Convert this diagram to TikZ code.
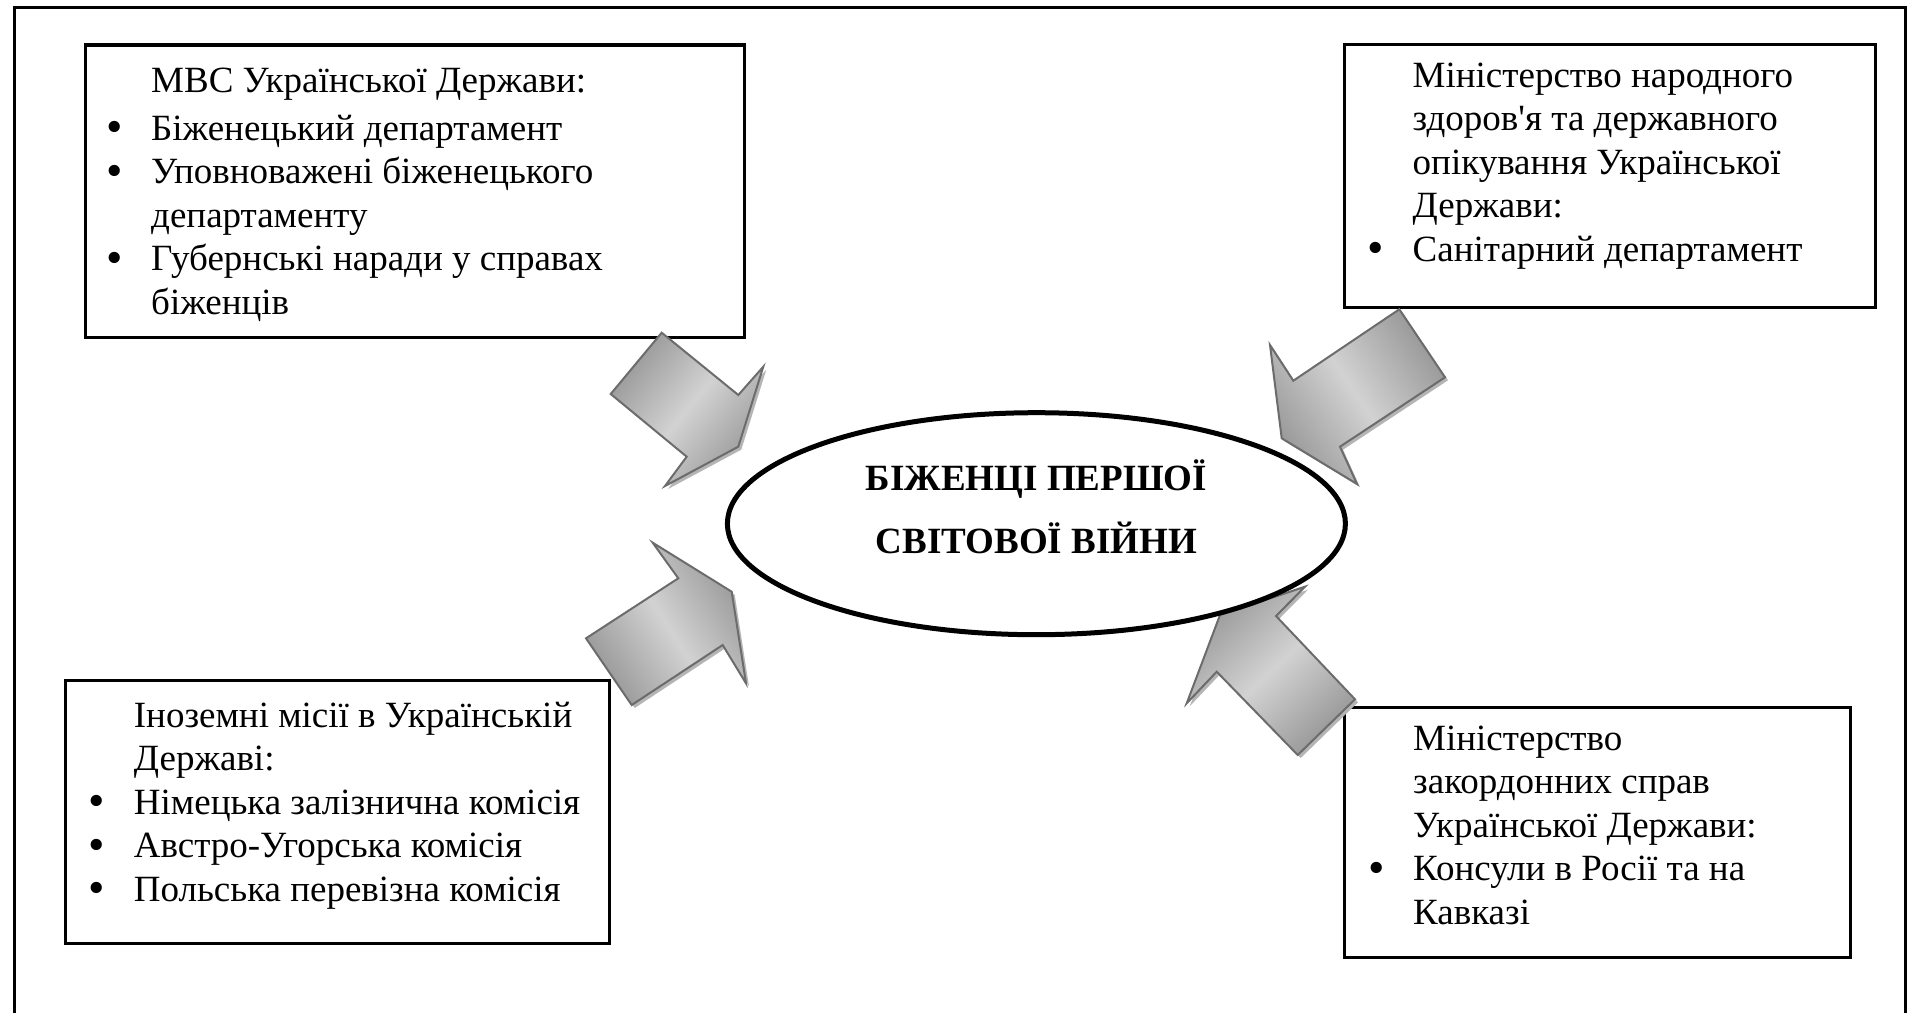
\documentclass[tikz,border=0pt]{standalone}
\usepackage{fontspec}
\setmainfont{Liberation Serif}
\newfontfamily\apfont{Liberation Serif}
\usetikzlibrary{shapes.geometric}
\definecolor{arrline}{HTML}{6C6C6C}
\definecolor{arrdark}{HTML}{999999}
\definecolor{arrlight}{HTML}{D2D2D2}
\definecolor{arrshadow}{HTML}{B5B5B5}
\newcommand\bulmark{\raisebox{-2.5pt}{\fontsize{47}{43.5}\selectfont •}}
\def\arrA{(661.7,332.7) -- (738.3,395) -- (763.3,366.7) -- (738.3,446.7) -- (665,486) -- (686.7,456.7) -- (610.7,394) -- cycle}
\def\arrB{(1399.3,309.3) -- (1445,377.3) -- (1340,446.7) -- (1357,484) -- (1281.7,438.3) -- (1270,345) -- (1293.3,380.7) -- cycle}
\def\arrC{(631.7,705) -- (586,638.3) -- (678.3,578.3) -- (652.7,542.7) -- (731.7,591.7) -- (746,683.3) -- (722.7,645) -- cycle}
\def\arrD{(1355,699.3) -- (1297.7,755) -- (1216.7,671.7) -- (1186.7,703.3) -- (1220,615) -- (1305,586.7) -- (1276,616) -- cycle}
\begin{document}
\begin{tikzpicture}[x=1pt,y=-1pt,
  box/.style={draw, line width=3.4pt, inner sep=0pt, anchor=north west},
  txt/.style={inner sep=0pt, anchor=base west, font=\fontsize{37}{43.5}\selectfont},
  ttl/.style={inner sep=0pt, anchor=base, font=\fontsize{37}{43.5}\selectfont\bfseries},
  blockarr/.style={draw=arrline, line width=2pt, line join=miter, left color=arrdark, right color=arrdark, middle color=arrlight},
  arrshd/.style={fill=arrshadow, shift={(3,3)}}]
\useasboundingbox (0,0) rectangle (1914,1012);
\clip (0,0) rectangle (1914,1012);
\draw[line width=3.4pt] (14.3,7.3) rectangle (1905.7,1040);
% boxes
\node[box, minimum width=659.5pt, minimum height=292.7pt] (mvs) at (83.5,43.3) {};
\node[box, minimum width=531pt, minimum height=263pt] (moz) at (1343,43) {};
\node[box, minimum width=544.5pt, minimum height=263pt] (inoz) at (63.5,679) {};
\node[box, minimum width=506pt, minimum height=250.4pt] (mzs) at (1343,705.6) {};
% texts
\node[txt] (mvsT) at (106,92) {\begin{tabular}[t]{@{}p{45pt}@{}l@{}}
 & МВС Української Держави:\\[4.5pt]
\bulmark & Біженецький департамент\\
\bulmark & Уповноважені біженецького\\
 & департаменту\\
\bulmark & Губернські наради у справах\\
 & біженців\end{tabular}};
\node[txt] (mozT) at (1367.5,87) {\begin{tabular}[t]{@{}p{45pt}@{}l@{}}
 & Міністерство народного\\
 & здоров{\apfont '}я та державного\\
 & опікування Української\\
 & Держави:\\
\bulmark & Санітарний департамент\end{tabular}};
\node[txt] (inozT) at (88.7,727) {\begin{tabular}[t]{@{}p{45pt}@{}l@{}}
 & Іноземні місії в Українській\\
 & Державі:\\
\bulmark & Німецька залізнична комісія\\
\bulmark & Австро-Угорська комісія\\
\bulmark & Польська перевізна комісія\end{tabular}};
\node[txt] (mzsT) at (1368,750) {\begin{tabular}[t]{@{}p{45pt}@{}l@{}}
 & Міністерство\\
 & закордонних справ\\
 & Української Держави:\\
\bulmark & Консули в Росії та на\\
 & Кавказі\end{tabular}};
% block arrows
\fill[arrshd] \arrA;
\draw[blockarr, shading angle=50.8] \arrA;
\fill[arrshd] \arrB;
\draw[blockarr, shading angle=-56] \arrB;
\fill[arrshd] \arrC;
\draw[blockarr, shading angle=-57] \arrC;
\fill[arrshd] \arrD;
\draw[blockarr, shading angle=43.4] \arrD;
% centre
\node[draw, ellipse, line width=5pt, minimum width=618pt, minimum height=222pt, inner sep=0pt] (ell) at (1036.4,523.7) {};
\node[ttl] (ttlA) at (1036.4,490.5) {БІЖЕНЦІ ПЕРШОЇ};
\node[ttl] (ttlB) at (1036.4,553) {СВІТОВОЇ ВІЙНИ};
\end{tikzpicture}
\end{document}
